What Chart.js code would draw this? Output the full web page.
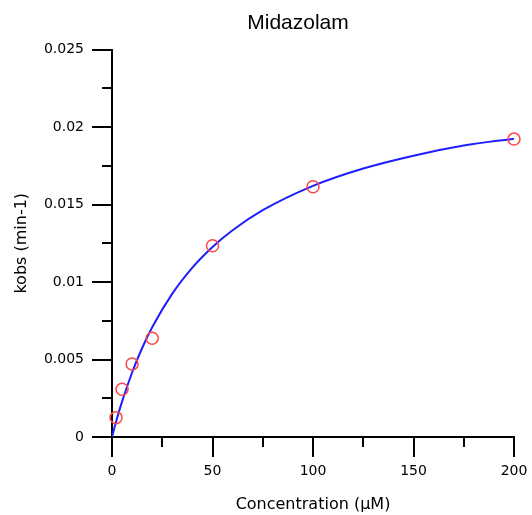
<!DOCTYPE html>
<html>
<head>
<meta charset="utf-8">
<script src="https://cdn.jsdelivr.net/npm/chart.js@4.4.1/dist/chart.umd.min.js"></script>
<style>
  html, body { margin: 0; padding: 0; background: #fff; }
  #wrap { width: 532px; height: 515px; }
</style>
</head>
<body>
<div id="wrap"><canvas id="chart" width="532" height="515"></canvas></div>
<script>
// measured points
const concentrations = [2, 5, 10, 20, 50, 100, 200];
const kobs = [0.00125, 0.00308, 0.00471, 0.00637, 0.01234, 0.01615, 0.01922];

// fitted curve
const fitX = [0, 2, 5, 10, 15, 20, 30, 40, 50, 60, 75, 100, 125, 150, 175, 200];
const fitY = [0, 0.00097, 0.00228, 0.00416, 0.00574, 0.00708, 0.00925, 0.01093, 0.01226, 0.01334, 0.01463, 0.0162, 0.01732, 0.01815, 0.0188, 0.01925];

// tick labels (major ticks only)
const xTickLabels = ['0', '50', '100', '150', '200'];
const yTickLabels = ['0', '0.005', '0.01', '0.015', '0.02', '0.025'];

const chartTitle = 'Midazolam';

const tickFont = { family: 'DejaVu Sans', size: 14 };
const titleFont = { family: 'DejaVu Sans', size: 16 };

// major / minor tick marks drawn outside the axes, plus the title
const tickMarks = {
    id: 'tickMarks',
    afterDraw(chart) {
        const ctx = chart.ctx;
        const xs = chart.scales.x, ys = chart.scales.y;
        ctx.save();
        ctx.strokeStyle = '#000';
        ctx.lineWidth = 2;
        ctx.beginPath();
        xs.ticks.forEach((t, i) => {
            const px = Math.round(xs.getPixelForValue(t.value));
            const len = i % 2 === 0 ? 20 : 10;
            ctx.moveTo(px, xs.top);
            ctx.lineTo(px, xs.top + len);
        });
        ys.ticks.forEach((t, i) => {
            const py = Math.round(ys.getPixelForValue(t.value));
            const len = i % 2 === 0 ? 20 : 10;
            ctx.moveTo(ys.right, py);
            ctx.lineTo(ys.right - len, py);
        });
        ctx.stroke();

        // title sits a bit left of the plot centre, like the original
        ctx.fillStyle = '#000';
        ctx.font = '21px "Liberation Sans", Arial, sans-serif';
        ctx.textAlign = 'center';
        ctx.textBaseline = 'middle';
        ctx.fillText(chartTitle, 298, 23);
        ctx.restore();
    }
};

new Chart(document.getElementById('chart'), {
    type: 'scatter',
    data: {
        datasets: [{
            label: 'kobs',
            data: concentrations.map((c, i) => ({ x: c, y: kobs[i] })),
            pointStyle: 'circle',
            pointRadius: 6,
            pointBorderWidth: 1.5,
            pointBorderColor: 'rgb(255, 70, 70)',
            pointBackgroundColor: 'transparent',
            clip: false
        },
        {
            label: 'fit',
            data: fitX.map((c, i) => ({ x: c, y: fitY[i] })),
            showLine: true,
            cubicInterpolationMode: 'monotone',
            borderColor: 'rgb(30, 30, 255)',
            borderWidth: 2,
            pointRadius: 0,
            fill: false
        }]
    },
    options: {
        responsive: false,
        animation: false,
        events: [],
        layout: { padding: { left: 0, right: 18, top: 49.5, bottom: 0 } },
        plugins: {
            legend: { display: false },
            tooltip: { enabled: false },
            title: { display: false }
        },
        scales: {
            x: {
                type: 'linear',
                min: 0,
                max: 200,
                afterFit(scale) { scale.height = 78; },
                border: { display: true, color: '#000', width: 2 },
                grid: { drawOnChartArea: false, tickLength: 22, tickColor: 'transparent' },
                ticks: {
                    stepSize: 25,
                    autoSkip: false,
                    maxRotation: 0,
                    padding: 4,
                    color: '#000',
                    font: tickFont,
                    callback: (v, i) => i % 2 === 0 ? xTickLabels[i / 2] : ''
                },
                title: {
                    display: true,
                    text: 'Concentration (µM)',
                    color: '#000',
                    font: titleFont,
                    padding: { top: 0, bottom: 0.5 }
                }
            },
            y: {
                type: 'linear',
                min: 0,
                max: 0.025,
                afterFit(scale) { scale.width = 112; },
                border: { display: true, color: '#000', width: 2 },
                grid: { drawOnChartArea: false, tickLength: 20, tickColor: 'transparent' },
                ticks: {
                    stepSize: 0.0025,
                    autoSkip: false,
                    padding: 8,
                    color: '#000',
                    font: tickFont,
                    callback: (v, i) => i % 2 === 0 ? yTickLabels[i / 2] : ''
                },
                title: {
                    display: true,
                    text: 'kobs (min-1)',
                    color: '#000',
                    font: titleFont,
                    padding: { top: 12, bottom: 0 }
                }
            }
        }
    },
    plugins: [tickMarks]
});
</script>
</body>
</html>
